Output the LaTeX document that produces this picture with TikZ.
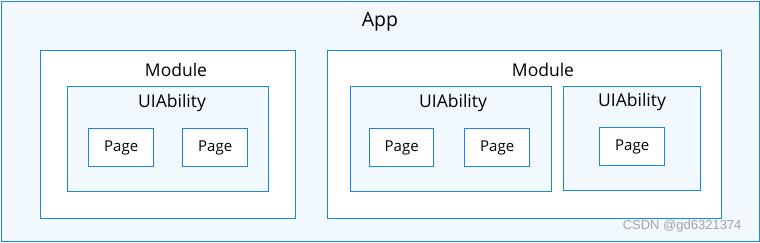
\documentclass[tikz,border=0pt]{standalone}
\usepackage{fontspec}
\setmainfont{Open Sans}
\newfontfamily\markfont{Liberation Sans}
\usetikzlibrary{positioning}
\definecolor{boxline}{HTML}{1F82E6}
\definecolor{boxfill}{HTML}{F1F8FE}
\definecolor{markgray}{HTML}{A3A3A3}

\begin{document}
\begin{tikzpicture}[
  x=1pt, y=-1pt,
  block/.style 2 args={draw=boxline, line width=1.4pt, anchor=north west,
    inner sep=0pt, minimum width=#1, minimum height=#2},
  page/.style={block={65pt}{38pt}, fill=white, font=\fontsize{15}{18}\selectfont},
  title/.style={font=\fontsize{17.5}{20}\selectfont},
]
\useasboundingbox (0,0) rectangle (760,243);

% App
\node[block={758pt}{240pt}, fill=boxfill] (app) at (1,1) {};
\node[title, font=\fontsize{19.5}{22}\selectfont] (applbl) at (380,22) {App};

% Module links
\node[block={255pt}{168pt}, fill=white] (modA) at (40,50) {};
\node[title] (modAlbl) at (176,70) {Module};
\node[block={201pt}{105pt}, fill=boxfill] (abilA) at (67,86) {};
\node[title] (abilAlbl) at (172,103) {UIAbility};
\node[page] (pageA) at (88,128) {Page};
\node[page] (pageB) at (182,128) {Page};

% Module rechts
\node[block={394pt}{168pt}, fill=white] (modB) at (327,50) {};
\node[title] (modBlbl) at (543,70) {Module};
\node[block={201pt}{105pt}, fill=boxfill] (abilB) at (350,86) {};
\node[title] (abilBlbl) at (453,103) {UIAbility};
\node[page, minimum width=64pt] (pageC) at (369,128) {Page};
\node[page] (pageD) at (464,128) {Page};
\node[block={137pt}{104pt}, fill=boxfill] (abilC) at (563,86) {};
\node[title] (abilClbl) at (632,102) {UIAbility};
\node[page] (pageE) at (599,127) {Page};

% Wasserzeichen
\node[anchor=east, text=markgray, font=\markfont\fontsize{13}{15}\selectfont] (mark) at (745,226) {CSDN @gd6321374};

\end{tikzpicture}
\end{document}
